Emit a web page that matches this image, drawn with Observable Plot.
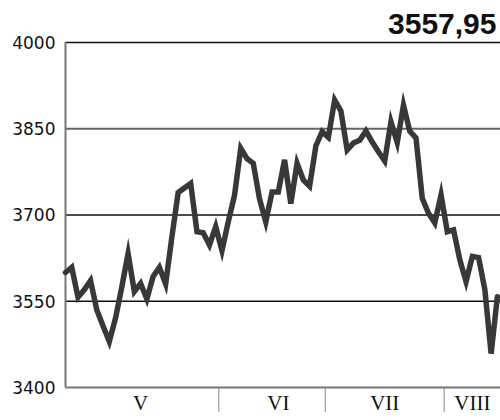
<!DOCTYPE html>
<html>
<head>
<meta charset="utf-8">
<script src="https://cdn.jsdelivr.net/npm/d3@7"></script>
<script src="https://cdn.jsdelivr.net/npm/@observablehq/plot@0.6"></script>
<style>
  html, body { margin: 0; padding: 0; background: #fff; }
  #chart svg { display: block; }
</style>
</head>
<body>
<div id="chart"></div>
<script>
// Index values (trading days)
const values = [
  3600, 3609, 3557, 3570, 3586, 3535, 3507, 3480, 3521, 3575,
  3633, 3567, 3581, 3554, 3593, 3609, 3580, 3662, 3739, 3747,
  3755, 3671, 3669, 3648, 3680, 3638, 3688, 3734, 3816, 3798,
  3790, 3728, 3688, 3740, 3740, 3796, 3720, 3790, 3761, 3750,
  3820, 3845, 3835, 3900, 3881, 3813, 3825, 3830, 3846, 3827,
  3810, 3794, 3862, 3826, 3891, 3846, 3834, 3729, 3703, 3686,
  3735, 3671, 3674, 3622, 3584, 3628, 3626, 3570, 3459, 3557.95
];
const lastValueText = "3557,95";
const yTicks = [3400, 3550, 3700, 3850, 4000];
const monthNames = ["V", "VI", "VII", "VIII"];
const monthLabelDay = [12, 34, 51, 65];
const monthBoundaryDay = [24.5, 41.5, 60.5];
const xDomain = [0, 69.5];
const yDomain = [3400, 4000];

const data = values.map((v, i) => ({ i, v }));
const months = monthNames.map((name, k) => ({ name, day: monthLabelDay[k] }));

const chart = Plot.plot({
  width: 500,
  height: 420,
  marginLeft: 65,
  marginRight: 0,
  marginTop: 42,
  marginBottom: 33,
  x: { domain: xDomain, axis: null },
  y: { domain: yDomain, axis: null },
  style: { background: "#fff", color: "#111" },
  marks: [
    Plot.ruleY([4000, 3700, 3550], { stroke: "#111", strokeWidth: 1.3 }),
    Plot.ruleY([3850], { stroke: "#666", strokeWidth: 2 }),
    Plot.ruleY([yDomain[0]], { stroke: "#777", strokeWidth: 2 }),
    Plot.ruleX([xDomain[0]], { y1: yDomain[0], y2: yDomain[1], stroke: "#777", strokeWidth: 2 }),
    Plot.text(yTicks, {
      x: () => xDomain[0], y: d => d, text: d => String(d),
      textAnchor: "end", lineAnchor: "middle", dx: -10, dy: 1,
      fontSize: 17, fontFamily: "DejaVu Sans", fill: "#111"
    }),
    Plot.axisX({
      ticks: monthBoundaryDay, tickSize: 25, tickFormat: () => "", label: null,
      stroke: "#888", strokeWidth: 1
    }),
    Plot.text(months, {
      x: "day", y: () => yDomain[0], text: "name",
      textAnchor: "middle", lineAnchor: "top", dy: 8,
      fontSize: 21, fontFamily: "Liberation Serif", fill: "#111"
    }),
    Plot.line(data, {
      x: "i", y: "v", stroke: "#383838", strokeWidth: 5.5,
      strokeLinejoin: "miter", strokeMiterlimit: 6
    }),
    Plot.text([lastValueText], {
      frameAnchor: "top-right", textAnchor: "end", lineAnchor: "bottom",
      dx: -4, dy: -9, fontSize: 30, fontWeight: "bold",
      fontFamily: "Liberation Sans", fill: "#111"
    })
  ]
});
document.getElementById("chart").appendChild(chart);
</script>
</body>
</html>
